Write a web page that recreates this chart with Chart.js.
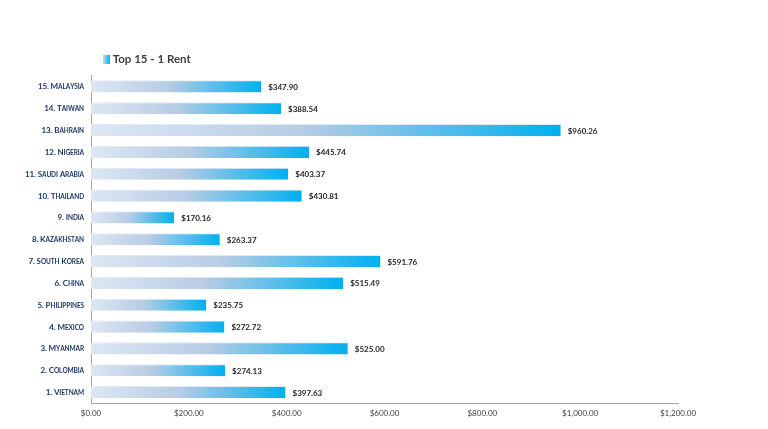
<!DOCTYPE html>
<html>
<head>
<meta charset="utf-8">
<script src="https://cdn.jsdelivr.net/npm/chart.js@4.4.1/dist/chart.umd.min.js"></script>
<style>
  html, body { margin: 0; padding: 0; background: #fff; }
  #wrap { width: 768px; height: 429px; }
</style>
</head>
<body>
<div id="wrap"><canvas id="rentChart"></canvas></div>
<script>
// データ（上から順に）
const countries = [
    '15. Malaysia', '14. Taiwan', '13. Bahrain', '12. Nigeria', '11. Saudi Arabia',
    '10. Thailand', '9. India', '8. Kazakhstan', '7. South Korea', '6. China',
    '5. Philippines', '4. Mexico', '3. Myanmar', '2. Colombia', '1. Vietnam'
];
const rentValues = [
    347.90, 388.54, 960.26, 445.74, 403.37,
    430.81, 170.16, 263.37, 591.76, 515.49,
    235.75, 272.72, 525.00, 274.13, 397.63
];
const seriesName = 'Top 15 - 1 Rent';
const xTicks = [0, 200, 400, 600, 800, 1000, 1200];

const FONT = 'Lato, "Open Sans", sans-serif';

function money(v) {
    return '$' + v.toLocaleString('en-US', { minimumFractionDigits: 2, maximumFractionDigits: 2 });
}

// バーごとのグラデーション
function barGradient(context) {
    const chart = context.chart;
    const area = chart.chartArea;
    if (!area || context.type !== 'data') return '#00b0f0';
    const xs = chart.scales.x;
    const x0 = xs.getPixelForValue(0);
    const x1 = xs.getPixelForValue(context.raw);
    const g = chart.ctx.createLinearGradient(x0, 0, x1, 0);
    g.addColorStop(0, '#dde7f3');
    g.addColorStop(0.45, '#b8cce4');
    g.addColorStop(1, '#00b0f0');
    return g;
}

// 文字列をスモールキャップスの断片に分ける
function smallCapsParts(text) {
    const parts = [];
    let wordStart = true;
    for (const ch of text) {
        const isLower = ch !== ch.toUpperCase();
        if (ch === ' ') {
            parts.push({ t: ch, big: true });
            wordStart = true;
            continue;
        }
        if (wordStart || !isLower) {
            parts.push({ t: ch, big: true });
        } else {
            parts.push({ t: ch.toUpperCase(), big: false });
        }
        wordStart = false;
    }
    return parts;
}

// Y軸ラベル（スモールキャップス）
const smallCapsLabels = {
    id: 'smallCapsLabels',
    afterDraw(chart) {
        const ctx = chart.ctx;
        const ys = chart.scales.y;
        const bigFont = 'bold 8px ' + FONT;
        const smallFont = 'bold 6.5px ' + FONT;
        const right = ys.right - 7;
        ctx.save();
        ctx.fillStyle = '#1f3864';
        ctx.textBaseline = 'alphabetic';
        ctx.textAlign = 'left';
        countries.forEach((label, i) => {
            const y = ys.getPixelForValue(i) + 3;
            const parts = smallCapsParts(label);
            let total = 0;
            parts.forEach(p => {
                ctx.font = p.big ? bigFont : smallFont;
                p.w = ctx.measureText(p.t).width - 0.1;
                total += p.w;
            });
            let x = right - total;
            parts.forEach(p => {
                ctx.font = p.big ? bigFont : smallFont;
                ctx.fillText(p.t, x, y);
                x += p.w;
            });
        });
        ctx.restore();
    }
};

// 値ラベル
const valueLabels = {
    id: 'valueLabels',
    afterDatasetsDraw(chart) {
        const ctx = chart.ctx;
        const meta = chart.getDatasetMeta(0);
        ctx.save();
        ctx.font = 'bold 8px ' + FONT;
        ctx.fillStyle = '#262626';
        ctx.textAlign = 'left';
        ctx.textBaseline = 'middle';
        meta.data.forEach((bar, i) => {
            ctx.fillText(money(rentValues[i]), bar.x + 7, bar.y + 1);
        });
        ctx.restore();
    }
};

// 凡例用のグラデーション見本（右寄せ、左側は透明）
const legendSwatch = document.createElement('canvas');
legendSwatch.width = 20;
legendSwatch.height = 9;
(function() {
    const c = legendSwatch.getContext('2d');
    const g = c.createLinearGradient(13, 0, 20, 0);
    g.addColorStop(0, '#c6d9f1');
    g.addColorStop(1, '#00b0f0');
    c.fillStyle = g;
    c.fillRect(13, 0, 7, 9);
})();

const ctx = document.getElementById('rentChart').getContext('2d');
new Chart(ctx, {
    type: 'bar',
    data: {
        labels: countries,
        datasets: [{
            label: seriesName,
            data: rentValues,
            backgroundColor: barGradient,
            borderColor: 'rgba(220,232,246,0.9)',
            borderWidth: { top: 1, right: 0, bottom: 0, left: 0 },
            borderSkipped: false,
            barPercentage: 0.56,
            categoryPercentage: 1
        }]
    },
    options: {
        indexAxis: 'y',
        responsive: true,
        maintainAspectRatio: false,
        animation: false,
        layout: { padding: { left: 0, right: 90, top: 52, bottom: 0 } },
        scales: {
            x: {
                min: 0,
                max: 1200,
                afterBuildTicks: (scale) => { scale.ticks = xTicks.map(v => ({ value: v })); },
                afterFit: (scale) => { scale.height = 26; },
                grid: { display: false, drawTicks: true, tickLength: 4, tickColor: '#a6a6a6' },
                border: { display: true, color: '#a6a6a6', width: 1 },
                ticks: {
                    callback: (v) => money(v),
                    color: '#404040',
                    font: { family: FONT, size: 8 },
                    padding: 2,
                    maxRotation: 0
                }
            },
            y: {
                afterFit: (scale) => { scale.width = 91; },
                grid: { display: false, drawTicks: false },
                border: { display: true, color: '#a6a6a6', width: 1 },
                ticks: { display: false }
            }
        },
        plugins: {
            legend: {
                display: true,
                position: 'top',
                align: 'start',
                fullSize: false,
                labels: {
                    usePointStyle: true,
                    pointStyle: legendSwatch,
                    pointStyleWidth: 14,
                    color: '#404040',
                    font: { family: FONT, size: 11.5, weight: 'bold' },
                    padding: 2
                }
            },
            tooltip: { enabled: false }
        }
    },
    plugins: [valueLabels, smallCapsLabels]
});
</script>
</body>
</html>
